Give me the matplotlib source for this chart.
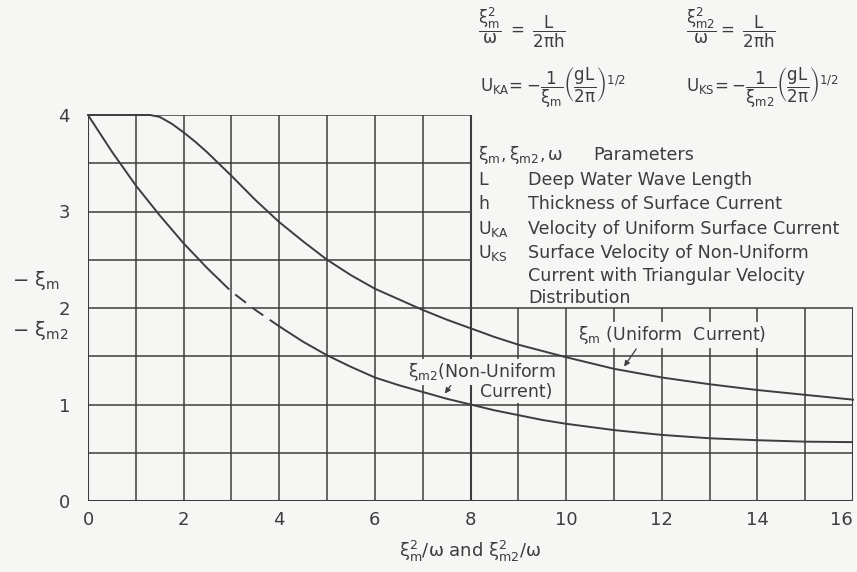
import matplotlib.pyplot as plt
import numpy as np

plt.rcParams['mathtext.fontset'] = 'dejavusans'
plt.rcParams['mathtext.default'] = 'regular'

# xi_m (uniform current) vs xi_m^2/omega
x_uniform = [0, 0.5, 1.0, 1.3, 1.5, 1.75, 2.0, 2.25, 2.5, 2.75, 3.0, 3.5, 4.0, 4.5, 5.0, 5.5,
             6.0, 6.5, 7.0, 7.5, 8.0, 8.5, 9, 9.5, 10, 11, 12, 13, 14, 15, 16]
y_uniform = [4.0, 4.0, 4.0, 4.0, 3.98, 3.91, 3.82, 3.72, 3.61, 3.49, 3.37, 3.12, 2.89, 2.69, 2.50, 2.34,
             2.20, 2.09, 1.98, 1.88, 1.79, 1.70, 1.62, 1.555, 1.49, 1.37, 1.28, 1.21, 1.15, 1.10, 1.05]

# xi_m2 (non-uniform current), dashed between 2.75 and 4
x_nonuni = [0, 0.5, 1.0, 1.5, 2.0, 2.5, 2.75, 3.0, 3.5, 4.0, 4.5, 5.0, 5.5, 6.0, 6.5,
            7.0, 7.5, 8.0, 8.5, 9, 9.5, 10, 11, 12, 13, 14, 15, 16]
y_nonuni = [4.0, 3.62, 3.27, 2.96, 2.67, 2.41, 2.29, 2.17, 1.98, 1.81, 1.65, 1.51, 1.39, 1.28, 1.20,
            1.13, 1.06, 1.00, 0.94, 0.89, 0.84, 0.80, 0.735, 0.685, 0.65, 0.63, 0.615, 0.61]
dash_from, dash_to = 2.75, 4.0

xticks = [0, 2, 4, 6, 8, 10, 12, 14, 16]
yticks = [0, 1, 2, 3, 4]

BG = '#f6f6f4'
INK = '#3d3d3d'
W, H = 857, 572


def fx(px):
    return px / W


def fy(py):
    return 1 - py / H


fig = plt.figure(figsize=(W / 100, H / 100), dpi=100)
fig.patch.set_facecolor(BG)
ax = fig.add_axes([fx(88), fy(501), (853 - 88) / W, (501 - 115) / H])
ax.set_facecolor('none')
ax.set_xlim(0, 16)
ax.set_ylim(0, 4)
for s in ax.spines.values():
    s.set_visible(False)

# grid: full box on the left half, lower half only on the right
glw = 1.1
ax.vlines(np.arange(1, 8), 0, 4, color=INK, lw=glw)
ax.vlines(np.arange(9, 16), 0, 2, color=INK, lw=glw)
ax.hlines([0.5, 1.0, 1.5, 2.0], 0, 16, color=INK, lw=glw)
ax.hlines([2.5, 3.0, 3.5, 4.0], 0, 8, color=INK, lw=glw)
ax.vlines([0, 8], 0, 4, color=INK, lw=1.5)
ax.vlines(16, 0, 2, color=INK, lw=1.5)
ax.hlines(0, 0, 16, color=INK, lw=2.2)

ax.set_xticks(xticks, [str(v) for v in xticks])
ax.set_yticks(yticks, [str(v) for v in yticks])
ax.tick_params(length=0, labelsize=13, labelcolor=INK)
ax.tick_params(axis='x', pad=7)
ax.tick_params(axis='y', pad=13)
ax.get_xticklabels()[-1].set_horizontalalignment('right')

# curves
xu, yu = np.array(x_uniform), np.array(y_uniform)
ax.plot(xu, yu, color=INK, lw=1.4, clip_on=False)

xn, yn = np.array(x_nonuni), np.array(y_nonuni)
m1 = xn <= dash_from
m2 = (xn >= dash_from) & (xn <= dash_to)
m3 = xn >= dash_to
ax.plot(xn[m1], yn[m1], color=INK, lw=1.4)
ax.plot(xn[m2], yn[m2], color=INK, lw=1.4, ls=(0, (7, 4)))
ax.plot(xn[m3], yn[m3], color=INK, lw=1.4)

# curve labels
box = dict(facecolor=BG, edgecolor='none', pad=1.5)
ax.text(10.25, 1.72, r'$\xi_m$ (Uniform  Current)', fontsize=12.5, color=INK,
        va='center', ha='left', bbox=box)
ax.annotate('', xy=(11.18, 1.37), xytext=(11.5, 1.6),
            arrowprops=dict(arrowstyle='-|>', color=INK, lw=0.9, mutation_scale=8))
ax.text(6.7, 1.34, r'$\xi_{m2}$(Non-Uniform', fontsize=12.5, color=INK,
        va='center', ha='left', bbox=box)
ax.text(8.2, 1.13, 'Current)', fontsize=12.5, color=INK, va='center', ha='left', bbox=box)
ax.annotate('', xy=(7.43, 1.09), xytext=(7.62, 1.22),
            arrowprops=dict(arrowstyle='-|>', color=INK, lw=0.9, mutation_scale=8))

# axis titles
fig.text(fx(12), fy(281), r'$-\ \xi_m$', fontsize=14, color=INK, va='center', ha='left')
fig.text(fx(12), fy(330), r'$-\ \xi_{m2}$', fontsize=14, color=INK, va='center', ha='left')
fig.text(fx(470), fy(551), r'$\xi_m^2/\omega$ and $\xi_{m2}^2/\omega$', fontsize=13,
         color=INK, va='center', ha='center')

# definitions
fs = 12
fig.text(fx(478), fy(28), r'$\dfrac{\xi_m^2}{\omega}\ =\ \dfrac{L}{2\pi h}$', fontsize=fs,
         color=INK, va='center', ha='left')
fig.text(fx(686), fy(28), r'$\dfrac{\xi_{m2}^2}{\omega}=\ \dfrac{L}{2\pi h}$', fontsize=fs,
         color=INK, va='center', ha='left')
fig.text(fx(480), fy(88), r'$U_{KA}\!=-\dfrac{1}{\xi_m}\left(\dfrac{gL}{2\pi}\right)^{1/2}$',
         fontsize=fs, color=INK, va='center', ha='left')
fig.text(fx(686), fy(88), r'$U_{KS}\!=-\dfrac{1}{\xi_{m2}}\left(\dfrac{gL}{2\pi}\right)^{1/2}$',
         fontsize=fs, color=INK, va='center', ha='left')

rows = [
    (155, r'$\xi_m, \xi_{m2}, \omega$', 'Parameters', 593),
    (180, 'L', 'Deep Water Wave Length', 528),
    (204, 'h', 'Thickness of Surface Current', 528),
    (229, r'$U_{KA}$', 'Velocity of Uniform Surface Current', 528),
    (253, r'$U_{KS}$', 'Surface Velocity of Non-Uniform', 528),
    (276, '', 'Current with Triangular Velocity', 528),
    (298, '', 'Distribution', 528),
]
for py, sym, desc, dx in rows:
    if sym:
        fig.text(fx(478), fy(py), sym, fontsize=12.5, color=INK, va='center', ha='left')
    fig.text(fx(dx), fy(py), desc, fontsize=12.6, color=INK, va='center', ha='left')

fig.savefig('out.png', dpi=100, facecolor=BG)
